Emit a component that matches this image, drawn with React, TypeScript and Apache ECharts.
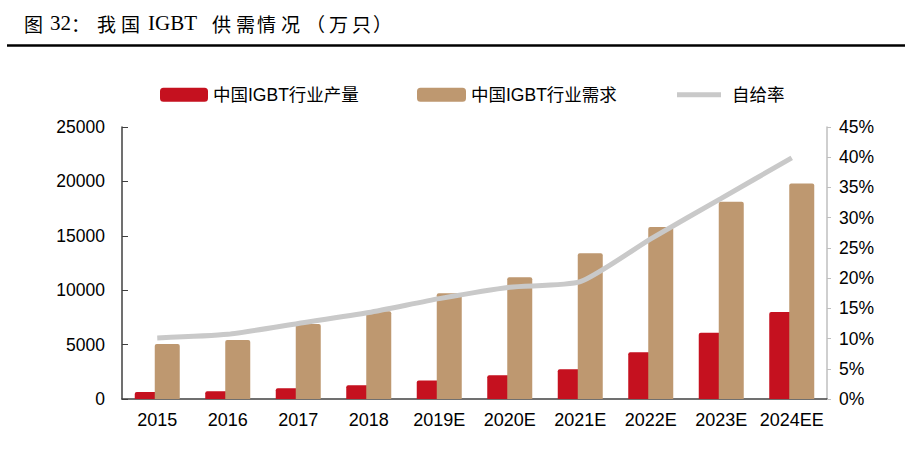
import * as echarts from 'echarts';
import { useEffect, useRef } from 'react';

const categories = ['2015', '2016', '2017', '2018', '2019E', '2020E', '2021E', '2022E', '2023E', '2024EE'];
const production = [650, 710, 990, 1260, 1690, 2190, 2740, 4300, 6090, 8000];
const demand = [5050, 5420, 6890, 8060, 9720, 11190, 13400, 15800, 18140, 19800];
const selfSufficiency = [10.1, 10.7, 12.5, 14.3, 16.6, 18.5, 19.4, 26.5, 33.2, 39.9];
const leftTicks = [0, 5000, 10000, 15000, 20000, 25000];
const rightTicks = [0, 5, 10, 15, 20, 25, 30, 35, 40, 45];

// title pieces with their x offsets (the source layout has wide letter spacing)
const titleParts: [string, number][] = [
  ['图', 24], ['32', 50], ['：', 71], ['我', 97], ['国', 121], ['IGBT', 148],
  ['供', 212], ['需', 236], ['情', 257], ['况', 281], ['（', 306], ['万', 329], ['只', 352], ['）', 373],
];

const RED = '#C5111F';
const TAN = '#BE9870';
const GRAY = '#C9C9C9';
const SANS = 'Liberation Sans, Arial, Noto Sans CJK SC, sans-serif';

export default function App() {
  const chartRef = useRef<HTMLDivElement>(null);

  useEffect(() => {
    if (!chartRef.current) return;
    const chart = echarts.init(chartRef.current, null, { renderer: 'svg' });

    const legendText = { fontSize: 17.5, color: '#000', fontFamily: SANS };

    const titleTexts = titleParts.map(([t, x]) => {
      const latin = /^[0-9A-Z]+$/.test(t);
      return {
        type: 'text',
        x,
        y: 23,
        style: {
          text: t,
          fill: '#000',
          fontSize: latin ? 21 : 19,
          fontFamily: latin ? 'Liberation Serif, serif' : 'Noto Sans CJK SC, sans-serif',
          textVerticalAlign: 'middle',
        },
      };
    });

    chart.setOption({
      animation: false,
      graphic: [
        ...titleTexts,
        {
          type: 'line',
          shape: { x1: 7, y1: 45.5, x2: 905, y2: 45.5 },
          style: { stroke: '#000', lineWidth: 2.5 },
        },
      ],
      legend: [
        {
          left: 160,
          top: 86,
          padding: 0,
          itemWidth: 48,
          itemHeight: 14,
          itemStyle: { borderRadius: 3 },
          textStyle: legendText,
          data: ['中国IGBT行业产量'],
        },
        {
          left: 417,
          top: 86,
          padding: 0,
          itemWidth: 49,
          itemHeight: 14,
          itemStyle: { borderRadius: 3 },
          textStyle: legendText,
          data: ['中国IGBT行业需求'],
        },
        {
          left: 677,
          top: 86,
          padding: 0,
          itemWidth: 44,
          itemHeight: 5,
          icon: 'rect',
          textStyle: { ...legendText, padding: [0, 0, 0, 6] },
          data: ['自给率'],
        },
      ],
      grid: { left: 122, right: 78, top: 127, bottom: 69 },
      xAxis: {
        type: 'category',
        data: categories,
        axisLine: { lineStyle: { color: '#404040', width: 1.5 } },
        axisTick: { inside: true, length: 4, lineStyle: { color: '#404040' } },
        axisLabel: { interval: 0, fontSize: 18, color: '#000', fontFamily: SANS, margin: 12 },
      },
      yAxis: [
        {
          type: 'value',
          min: 0,
          max: 25000,
          interval: 5000,
          splitLine: { show: false },
          axisLine: { show: true, lineStyle: { color: '#404040', width: 1.5 } },
          axisTick: { show: true, inside: true, length: 6, lineStyle: { color: '#404040' } },
          axisLabel: {
            fontSize: 17.5,
            color: '#000',
            fontFamily: SANS,
            margin: 17,
            formatter: (v: number) => (leftTicks.includes(v) ? String(v) : ''),
          },
        },
        {
          type: 'value',
          min: 0,
          max: 45,
          interval: 5,
          splitLine: { show: false },
          axisLine: { show: true, lineStyle: { color: '#BFBFBF', width: 1.5 } },
          axisTick: { show: true, length: 4, lineStyle: { color: '#BFBFBF' } },
          axisLabel: {
            fontSize: 17.5,
            color: '#000',
            fontFamily: SANS,
            margin: 12,
            formatter: (v: number) => (rightTicks.includes(v) ? v + '%' : ''),
          },
        },
      ],
      series: [
        {
          name: '中国IGBT行业产量',
          type: 'bar',
          data: production,
          barWidth: 25,
          barGap: '-20%',
          itemStyle: { color: RED, borderRadius: [2, 2, 0, 0] },
        },
        {
          name: '中国IGBT行业需求',
          type: 'bar',
          data: demand,
          barWidth: 25,
          itemStyle: { color: TAN, borderRadius: [2, 2, 0, 0] },
        },
        {
          name: '自给率',
          type: 'line',
          yAxisIndex: 1,
          data: selfSufficiency,
          smooth: 0.2,
          symbol: 'none',
          lineStyle: { color: GRAY, width: 5 },
          itemStyle: { color: GRAY },
        },
      ],
    });

    return () => {
      chart.dispose();
    };
  }, []);

  return (
    <div
      ref={chartRef}
      style={{ position: 'fixed', left: 0, top: 0, width: '905px', height: '468px', background: '#fff' }}
    />
  );
}
